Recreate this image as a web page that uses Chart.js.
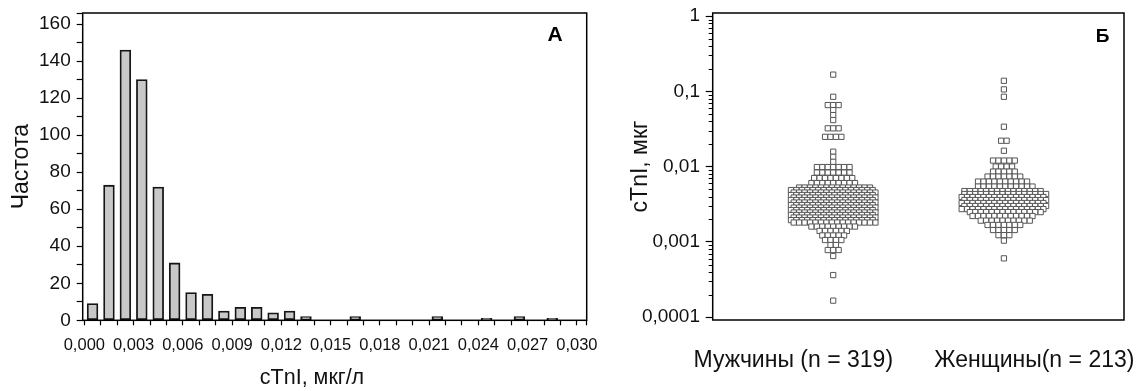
<!DOCTYPE html>
<html><head><meta charset="utf-8">
<script src="https://cdn.jsdelivr.net/npm/chart.js@4.4.1/dist/chart.umd.min.js"></script>
<style>
html,body{margin:0;padding:0;background:#fff;width:1144px;height:391px;overflow:hidden}
#wa{position:absolute;left:0;top:0;width:600px;height:391px}
#wb{position:absolute;left:600px;top:0;width:544px;height:391px}
</style></head><body>
<div id="wa"><canvas id="ca"></canvas></div>
<div id="wb"><canvas id="cb"></canvas></div>
<script>
// ---------- Panel A: histogram ----------
const binStarts = [0.000,0.001,0.002,0.003,0.004,0.005,0.006,0.007,0.008,0.009,
                   0.010,0.011,0.012,0.013,0.014,0.015,0.016,0.017,0.018,0.019,
                   0.020,0.021,0.022,0.023,0.024,0.025,0.026,0.027,0.028,0.029];
const binWidth = 0.001;
const binCounts = [9,73,146,130,72,31,15,14,5,7,
                   7,4,5,2,0,0,2,0,0,0,
                   0,2,0,0,1,0,2,0,1,0];
const xTickLabelsA = ['0,000','0,003','0,006','0,009','0,012','0,015','0,018','0,021','0,024','0,027','0,030'];
const yTickLabelsA = [0,20,40,60,80,100,120,140,160];
const yMinorTicksA = [10,30,50,70,90,110,130,150];
const yMaxA = 166;
const xTitleA = 'cTnI, мкг/л';
const yTitleA = 'Частота';
const panelA = 'А';

// ---------- Panel B: dot plot (log scale) ----------
const groupLabels = ['Мужчины (n = 319)', 'Женщины(n = 213)'];
const maleValues = [0.167,0.0848,0.0658,0.0564,0.0484,0.0416,0.0323,0.0249,0.0158,0.0135,0.0116,
  0.00988,0.00835,0.00706,0.00606,
  0.00528,0.00489,0.00453,0.00420,0.00389,0.00360,0.00334,0.00309,0.00286,0.00265,0.00246,0.00228,0.00211,0.00195,0.00181,
  0.00160,0.00140,0.00122,0.00106,0.00091,0.00078,0.00065,0.000363,0.000166];
const maleCounts = [1,1,3,1,1,1,3,4,1,1,1,
  7,7,8,9,
  14,16,16,16,16,16,16,16,16,16,16,16,16,16,16,
  9,6,5,4,2,3,1,1,1];
const femaleValues = [0.1383,0.1063,0.0848,0.0339,0.0221,0.01626,
  0.01205,0.01003,0.0086,0.00739,0.00634,0.00544,
  0.00474,0.00433,0.00395,0.00360,0.00329,0.00300,0.00273,0.00249,
  0.00221,0.00192,0.00168,0.00144,0.00123,0.00104,0.000605];
const femaleCounts = [1,1,1,1,2,1,
  5,4,5,7,10,11,
  15,16,16,16,16,16,16,14,
  12,10,7,5,3,1,1];
const yTickValuesB = [0.0001,0.001,0.01,0.1,1];
const yTickLabelsB = ['0,0001','0,001','0,01','0,1','1'];
const yTitleB = 'cTnI, мкг';
const panelB = 'Б';

// layout constants (positions on the B x-axis, 0..100)
const groupCenters = [29.3, 70.8];
const groupLabelPos = [19.6, 78.2];
const dotSpacing = 1.325;

const FONT = "'Liberation Sans', Arial, sans-serif";
const INK = '#111';

function swarm(values, counts, center) {
  const pts = [];
  values.forEach((v, r) => {
    const n = counts[r];
    const shift = n >= 10 ? ((r % 2) - 0.5) * 0.5 * dotSpacing : 0;
    for (let i = 0; i < n; i++) {
      pts.push({x: center + (i - (n - 1) / 2) * dotSpacing + shift, y: v});
    }
  });
  return pts;
}

const framePlugin = {
  id: 'frame',
  afterDraw(chart, args, opts) {
    const {ctx, chartArea: a} = chart;
    ctx.save();
    ctx.strokeStyle = '#000';
    ctx.lineWidth = 1.5;
    ctx.strokeRect(a.left, a.top, a.right - a.left, a.bottom - a.top);
    if (opts.minor) {
      const y = chart.scales.y;
      ctx.lineWidth = 1;
      ctx.beginPath();
      for (let e = -4; e <= -1; e++) {
        for (let m = 2; m <= 9; m++) {
          const py = Math.round(y.getPixelForValue(m * Math.pow(10, e))) + 0.5;
          ctx.moveTo(a.left - 4, py); ctx.lineTo(a.left, py);
        }
      }
      ctx.stroke();
    }
    ctx.fillStyle = '#000';
    ctx.textAlign = 'center';
    ctx.textBaseline = 'middle';
    if (opts.letter) {
      ctx.font = 'bold ' + opts.letterSize + 'px ' + FONT;
      ctx.fillText(opts.letter, opts.lx, opts.ly);
    }
    if (opts.xTitle) {
      ctx.fillStyle = INK;
      ctx.font = opts.xTitleSize + 'px ' + FONT;
      ctx.fillText(opts.xTitle, opts.tx, opts.ty);
    }
    ctx.restore();
  }
};

new Chart(document.getElementById('ca'), {
  type: 'bar',
  data: {datasets: [{
    data: binStarts.map((b, i) => ({x: b + binWidth / 2, y: binCounts[i]})),
    backgroundColor: '#c8c8c8', borderColor: '#151515', borderWidth: 1.8,
    borderSkipped: false, barThickness: 10.8
  }]},
  options: {
    responsive: true, maintainAspectRatio: false, animation: false,
    layout: {padding: {top: 13, right: 13.3, left: 0, bottom: 0}},
    plugins: {legend: {display: false}, tooltip: {enabled: false},
      frame: {letter: panelA, letterSize: 21, lx: 555, ly: 35,
              xTitle: xTitleA, xTitleSize: 21.5, tx: 312, ty: 378}},
    scales: {
      x: {
        type: 'linear', min: -0.0001, max: 0.0306, offset: false,
        afterBuildTicks(s) {
          s.ticks = binStarts.concat([binStarts[binStarts.length - 1] + binWidth, 0.0306]).map(v => ({value: v}));
        },
        afterFit(s) { s.height = 70.7; s.paddingLeft = 0; s.paddingRight = 0; },
        grid: {display: true, drawOnChartArea: false, drawTicks: true, tickLength: 5, tickColor: '#000', tickWidth: 1.2, offset: false},
        border: {display: false},
        ticks: {
          autoSkip: false, maxRotation: 0, minRotation: 0, padding: 10, color: INK,
          font: {family: FONT, size: 16.5},
          callback: (v, i) => (i % 3 === 0 && i / 3 < xTickLabelsA.length) ? xTickLabelsA[i / 3] : ''
        },
        title: {display: false}
      },
      y: {
        min: 0, max: yMaxA,
        afterBuildTicks(s) {
          s.ticks = yTickLabelsA.concat(yMinorTicksA, [yMaxA]).sort((a, b) => a - b).map(v => ({value: v}));
        },
        afterFit(s) { s.width = 82.7; s.paddingTop = 0; s.paddingBottom = 0; },
        grid: {display: true, drawOnChartArea: false, drawTicks: true, tickLength: 6, tickColor: '#000', tickWidth: 1.2},
        border: {display: false},
        ticks: {
          autoSkip: false, padding: 6, color: INK,
          font: {family: FONT, size: 19},
          callback: v => yTickLabelsA.includes(v) ? String(v) : ''
        },
        title: {display: true, text: yTitleA, color: INK, font: {family: FONT, size: 23}, padding: {top: 7.7, bottom: 0}}
      }
    }
  },
  plugins: [framePlugin]
});

const dotStyle = {
  pointStyle: 'rect', pointRadius: 3.7, pointBackgroundColor: '#fff',
  pointBorderColor: '#555', pointBorderWidth: 1, showLine: false
};

new Chart(document.getElementById('cb'), {
  type: 'scatter',
  data: {datasets: [
    Object.assign({label: groupLabels[0], data: swarm(maleValues, maleCounts, groupCenters[0])}, dotStyle),
    Object.assign({label: groupLabels[1], data: swarm(femaleValues, femaleCounts, groupCenters[1])}, dotStyle)
  ]},
  options: {
    responsive: true, maintainAspectRatio: false, animation: false,
    layout: {padding: {top: 13, right: 20, left: 0, bottom: 0}},
    plugins: {legend: {display: false}, tooltip: {enabled: false},
      frame: {minor: true, letter: panelB, letterSize: 19, lx: 502.5, ly: 36.7}},
    scales: {
      x: {
        type: 'linear', min: 0, max: 100,
        afterBuildTicks(s) { s.ticks = groupLabelPos.map(v => ({value: v})); },
        afterFit(s) { s.height = 71; s.paddingLeft = 0; s.paddingRight = 0; },
        grid: {display: false, drawTicks: false},
        border: {display: false},
        ticks: {autoSkip: false, maxRotation: 0, padding: 27, color: INK,
          font: {family: FONT, size: 23},
          callback: (v, i) => groupLabels[i]}
      },
      y: {
        type: 'logarithmic', min: 0.0000918, max: 1.1,
        afterBuildTicks(s) { s.ticks = yTickValuesB.map(v => ({value: v})); },
        afterFit(s) { s.width = 112.7; s.paddingTop = 0; s.paddingBottom = 0; },
        grid: {display: true, drawOnChartArea: false, drawTicks: true, tickLength: 7, tickColor: '#000', tickWidth: 1.2},
        border: {display: false},
        ticks: {autoSkip: false, padding: 5.7, color: INK, font: {family: FONT, size: 19},
          callback: (v, i) => yTickLabelsB[i]},
        title: {display: true, text: yTitleB, color: INK, font: {family: FONT, size: 23}, padding: {top: 27.2, bottom: 0}}
      }
    }
  },
  plugins: [framePlugin]
});
</script>
</body></html>
